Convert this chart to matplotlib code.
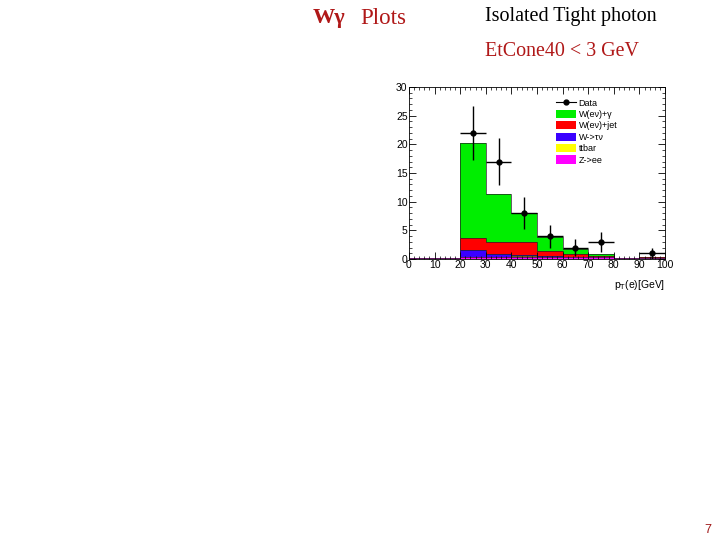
import numpy as np
import matplotlib.pyplot as plt
from matplotlib.patches import Patch
from matplotlib.lines import Line2D

plt.rcParams['font.family'] = ["Liberation Sans", "DejaVu Sans"]

# bin edges for p_T(e) [GeV]
edges = np.arange(0, 110, 10)
centers = edges[:-1] + 5

# per-bin contributions (stacked bottom -> top)
zee = [0.1, 0.1, 0.3, 0.4, 0.4, 0.4, 0.3, 0.3, 0.1, 0.2]
ttbar = [0.0, 0.0, 0.0, 0.0, 0.15, 0.0, 0.0, 0.0, 0.0, 0.0]
wtaunu = [0.0, 0.0, 1.2, 0.4, 0.15, 0.1, 0.0, 0.0, 0.0, 0.0]
wjet = [0.0, 0.0, 2.2, 2.1, 2.2, 0.9, 0.5, 0.2, 0.0, 0.1]
wgamma = [0.0, 0.0, 16.5, 8.5, 5.1, 2.5, 1.0, 0.4, 0.1, 0.0]

data_y = [22, 17, 8, 4, 2, 3, 1]
data_x = [25, 35, 45, 55, 65, 75, 95]

components = [("Z->ee", zee, "#ff00ff"),
              ("ttbar", ttbar, "#ffff00"),
              ("W->\u03c4\u03bd", wtaunu, "#3a00ff"),
              ("W(e\u03bd)+jet", wjet, "#ff0000"),
              ("W(e\u03bd)+\u03b3", wgamma, "#00ee00")]

fig = plt.figure(figsize=(7.2, 5.4), dpi=100)

# slide text
fig.text(313/720, 1 - 18/540, "W\u03b3", color="#b01818", fontsize=16,
         family="Liberation Serif", weight="bold", va="center")
fig.text(360/720, 1 - 18/540, "Plots", color="#b01818", fontsize=16.5,
         family="Liberation Serif", va="center")
fig.text(485/720, 1 - 17/540, "Isolated Tight photon", color="black", fontsize=14.5,
         family="Liberation Serif", va="center")
fig.text(485/720, 1 - 52/540, "EtCone40 < 3 GeV", color="#b01818", fontsize=14.4,
         family="Liberation Serif", va="center")
fig.text(704/720, 1 - 530/540, "7", color="#a01818", fontsize=9, va="center")

ax = fig.add_axes([409/720, 1 - 259/540, 256/720, 172/540])

# stacked histogram: draw cumulative sums from top down so each fills to 0
cum = np.cumsum([np.array(c[1]) for c in components], axis=0)
for i in range(len(components) - 1, -1, -1):
    name, vals, col = components[i]
    ax.stairs(cum[i], edges, fill=True, color=col, linewidth=0)
    ax.stairs(cum[i], edges, color="#222222", linewidth=0.5)

yerr = np.sqrt(data_y)
ax.errorbar(data_x, data_y, xerr=5, yerr=yerr, fmt="o", color="black",
            ms=3.5, elinewidth=1.0, capsize=0)

ax.set_xlim(0, 100)
ax.set_ylim(0, 30)
ax.set_xticks(np.arange(0, 101, 10))
ax.set_yticks(np.arange(0, 31, 5))
ax.set_xticks(np.arange(0, 101, 2), minor=True)
ax.set_yticks(np.arange(0, 31, 1), minor=True)
ax.tick_params(which="both", direction="in", top=True, right=True,
               labelsize=7.5, pad=1)
ax.tick_params(which="major", length=5, width=0.6)
ax.tick_params(which="minor", length=2.5, width=0.5)
for s in ax.spines.values():
    s.set_linewidth(0.6)

ax.text(1.0, -0.11, "p$_{\\mathrm{T}}$(e)[GeV]", transform=ax.transAxes,
        ha="right", va="top", fontsize=7.5)

handles = [Line2D([0], [0], color="black", marker="o", ms=3.5, lw=0.8)]
labels = ["Data"]
for name, vals, col in components[::-1]:
    handles.append(Patch(facecolor=col, edgecolor="none"))
    labels.append(name)
ax.legend(handles, labels, loc="upper left", bbox_to_anchor=(0.55, 0.97),
          frameon=False, fontsize=6.5, handlelength=2.2, handleheight=1.0,
          labelspacing=0.25, handletextpad=0.3, borderpad=0.2)

fig.savefig("out.png", dpi=100)
